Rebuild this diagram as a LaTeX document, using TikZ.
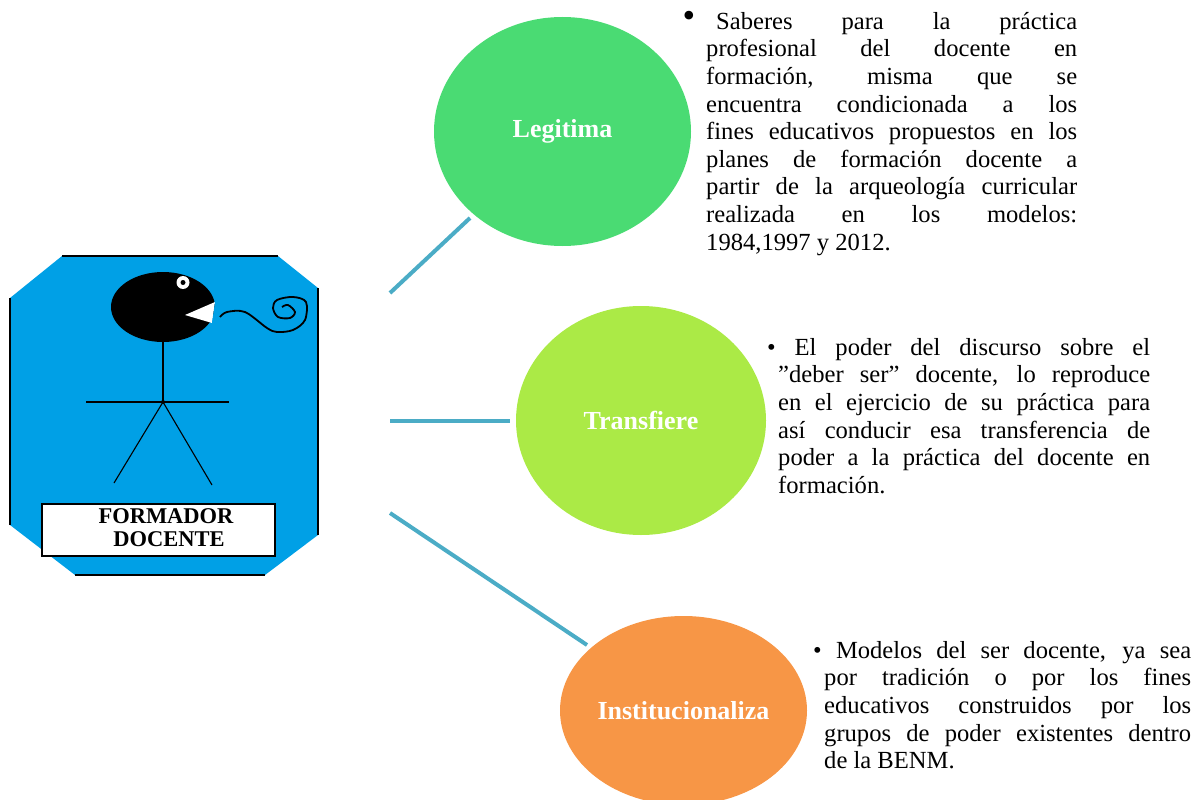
\documentclass[tikz,border=0pt]{standalone}
\usepackage{fontspec}
\setmainfont{Liberation Serif}
\tikzset{
  x=1pt,y=-1pt,
  bubble/.style={ellipse,minimum width=#1,inner sep=0pt,font=\fontsize{26}{28}\selectfont\bfseries,text=white},
  link/.style={draw=linkblue,line width=4pt},
  bodytext/.style={anchor=north west,inner sep=0pt,align=justify,font=\fontsize{24.6}{27.6}\selectfont},
  limb/.style={draw=black,line width=1.4pt},
}
\usetikzlibrary{shapes.geometric}
\definecolor{linkblue}{HTML}{4BACC6}
\definecolor{badge}{HTML}{00A0E6}
\definecolor{greenA}{HTML}{4ADB73}
\definecolor{greenB}{HTML}{ABEA46}
\definecolor{orangeC}{HTML}{F79646}
\begin{document}
\begin{tikzpicture}
\useasboundingbox (0,0) rectangle (1192,800);
% badge
\fill[badge] (62,256) -- (278,256) -- (318,288) -- (318,535) -- (265,575) -- (75,575) -- (10,525) -- (10,298) -- cycle;
\draw[line width=1.2pt] (62,256) -- (278,256) (318,288) -- (318,535) (265,575) -- (75,575) (10,525) -- (10,298);
% figure
\fill[black] (163,307) ellipse [x radius=52,y radius=35];
\fill[white] (215,302) -- (185,315) -- (212,323) -- cycle;
\fill[badge] (215,302) -- (212,323) -- (216,323) -- (220,302) -- cycle;
\fill[white] (183,282.5) circle (6.5);
\fill[black] (183,282.5) circle (2.5);
\draw[black,line width=1.8pt,line join=round] plot[smooth,tension=0.55] coordinates {(220,317) (227,312) (245,312) (267,328) (277,332) (293,330) (305,320) (306,302) (293,297) (277,300) (273,308) (278,317) (290,318) (295,312) (288,305) (282,307)};
\draw[limb] (163,342) -- (163,402) (86,402) -- (229,402);
\draw[limb,line width=1.1pt] (163,402) -- (114,483) (163,402) -- (212,485);
\fill[black] (163,402) circle (2);
\node[draw=black,fill=white,line width=1.2pt,minimum width=233pt,minimum height=52pt,inner sep=0pt] (title) at (158.5,530) {};
\node[font=\fontsize{22.5}{23}\selectfont\bfseries,inner sep=0pt] (titleA) at (166,516) {FORMADOR};
\node[font=\fontsize{22.5}{23}\selectfont\bfseries,inner sep=0pt] (titleB) at (169,539) {DOCENTE};
% ellipses
\node[bubble=257pt,fill=greenA,minimum height=229pt] (leg) at (562.5,131.5) {Legitima};
\node[bubble=250pt,fill=greenB,minimum height=229pt] (tra) at (641,420.5) {Transfiere};
\node[bubble=247pt,fill=orangeC,minimum height=189pt] (ins) at (683.5,710.5) {Institucionaliza};
% connectors
\coordinate (a0) at (390,293); \coordinate (a1) at (470,218);
\coordinate (b0) at (390,421); \coordinate (b1) at (510,421);
\coordinate (c0) at (390,513); \coordinate (c1) at (587,645);
\draw[link] (a0) -- (a1);
\draw[link] (b0) -- (b1);
\draw[link] (c0) -- (c1);
% descriptions
\node[inner sep=0pt,font=\fontsize{36}{36}\selectfont] (bulA) at (689,19) {•};
\node[bodytext,text width=371pt] (txtA) at (706,12) {\hspace*{10pt}Saberes para la práctica\linebreak profesional del docente en\linebreak formación, misma que se\linebreak encuentra condicionada a los\linebreak fines educativos propuestos en los\linebreak planes de formación docente a\linebreak partir de la arqueología curricular\linebreak realizada en los modelos:\linebreak 1984,1997 y 2012.};
\node[bodytext,text width=372pt] (txtB) at (778,338) {\hspace*{-11pt}• El poder del discurso sobre el\linebreak "deber ser" docente, lo reproduce\linebreak en el ejercicio de su práctica para\linebreak así conducir esa transferencia de\linebreak poder a la práctica del docente en\linebreak formación.};
\node[bodytext,text width=367pt] (txtC) at (824,641) {\hspace*{-11pt}• Modelos del ser docente, ya sea\linebreak por tradición o por los fines\linebreak educativos construidos por los\linebreak grupos de poder existentes dentro\linebreak de la BENM.};
\end{tikzpicture}
\end{document}
